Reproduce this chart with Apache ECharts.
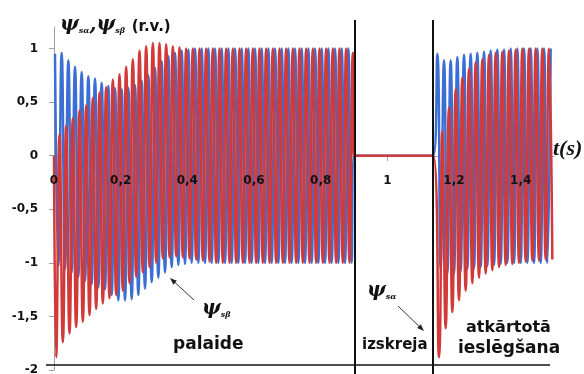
<!DOCTYPE html>
<html>
<head>
<meta charset="utf-8">
<script src="https://cdn.jsdelivr.net/npm/echarts@6/dist/echarts.min.js"></script>
<style>
  html, body { margin: 0; padding: 0; background: #fff; }
  #chart { width: 584px; height: 374px; }
</style>
</head>
<body>
<div id="chart"></div>
<script>
// 50 Hz flux, one extremum every half period (s)
const halfPeriod = 0.01;
// supply switched off / switched on again (s)
const offTime = 0.9;
const onTime = 1.138;

// time of the first extremum in each run
const alphaStart1 = 0.0065;
const betaStart1 = 0.003;
const alphaStart2 = 1.155;
const betaStart2 = 1.15;

// ψsα, start (palaide): troughs and peaks
const alphaTroughs1 = [
  -1.88, -1.74, -1.66, -1.60, -1.55, -1.49, -1.43, -1.38, -1.33, -1.30,
  -1.26, -1.19, -1.13, -1.09, -1.04, -1.00, -0.96, -0.95, -0.94, -0.95,
  -0.96, -0.97, -0.98, -0.99, -1.00, -1.00, -1.00, -1.00, -1.00, -1.00,
  -1.00, -1.00, -1.00, -1.00, -1.00, -1.00, -1.00, -1.00, -1.00, -1.00,
  -1.00, -1.00, -1.00, -1.00, -1.00,
];
const alphaPeaks1 = [
  0.20, 0.28, 0.35, 0.42, 0.47, 0.54, 0.59, 0.64, 0.71, 0.76,
  0.83, 0.90, 0.98, 1.02, 1.05, 1.05, 1.04, 1.02, 1.01, 1.00,
  1.00, 1.00, 1.00, 1.00, 1.00, 1.00, 1.00, 1.00, 1.00, 1.00,
  1.00, 1.00, 1.00, 1.00, 1.00, 1.00, 1.00, 1.00, 1.00, 1.00,
  1.00, 1.00, 1.00, 1.00, 0.96,
];
// ψsβ, start
const betaPeaks1 = [
  0.95, 0.96, 0.89, 0.83, 0.78, 0.74, 0.72, 0.68, 0.65, 0.63,
  0.62, 0.63, 0.66, 0.70, 0.75, 0.82, 0.88, 0.93, 0.96, 0.98,
  0.99, 1.00, 1.00, 1.00, 1.00, 1.00, 1.00, 1.00, 1.00, 1.00,
  1.00, 1.00, 1.00, 1.00, 1.00, 1.00, 1.00, 1.00, 1.00, 1.00,
  1.00, 1.00, 1.00, 1.00, 1.00,
];
const betaTroughs1 = [
  -1.03, -1.06, -1.09, -1.13, -1.17, -1.20, -1.23, -1.25, -1.30, -1.35,
  -1.35, -1.34, -1.30, -1.24, -1.18, -1.14, -1.09, -1.04, -1.02, -1.01,
  -1.00, -1.00, -1.00, -1.00, -1.00, -1.00, -1.00, -1.00, -1.00, -1.00,
  -1.00, -1.00, -1.00, -1.00, -1.00, -1.00, -1.00, -1.00, -1.00, -1.00,
  -1.00, -1.00, -1.00, -1.00, -1.00,
];

// re-switching (atkārtotā ieslēgšana)
const alphaTroughs2 = [
  -1.88, -1.61, -1.46, -1.35, -1.26, -1.19, -1.14, -1.10, -1.07, -1.04,
  -1.02, -1.01, -1.00, -0.99, -0.98, -0.98, -0.97, -0.97,
];
const alphaPeaks2 = [
  0.23, 0.45, 0.62, 0.73, 0.81, 0.87, 0.90, 0.94, 0.96, 0.97,
  0.98, 0.99, 1.00, 1.00, 1.00, 1.00, 1.00,
];
const betaPeaks2 = [
  0.95, 0.89, 0.89, 0.92, 0.94, 0.95, 0.96, 0.97, 0.98, 0.99,
  0.99, 1.00, 1.00, 1.00, 1.00, 1.00, 1.00, 1.00,
];
const betaTroughs2 = [
  -1.05, -1.10, -1.10, -1.08, -1.06, -1.05, -1.04, -1.03, -1.02, -1.01,
  -1.00, -1.00, -1.00, -1.00, -1.00, -1.00, -1.00,
];

const xTicks = [0, 0.2, 0.4, 0.6, 0.8, 1, 1.2, 1.4];
const yTicks = [-2, -1.5, -1, -0.5, 0, 0.5, 1];

const colors = ['#3C6FD4', '#D23A3A'];

// interleave extrema: first[] at even half periods, second[] at odd
function buildRun(start, first, second) {
  const pts = [];
  for (let i = 0; i < first.length; i++) {
    pts.push([start + 2 * i * halfPeriod, first[i]]);
    if (i < second.length) {
      pts.push([start + (2 * i + 1) * halfPeriod, second[i]]);
    }
  }
  return pts;
}

const alphaData = [[0, 0]]
  .concat(buildRun(alphaStart1, alphaTroughs1, alphaPeaks1))
  .concat([[offTime, 0], [onTime, 0]])
  .concat(buildRun(alphaStart2, alphaTroughs2, alphaPeaks2));

const betaData = buildRun(betaStart1, betaPeaks1, betaTroughs1)
  .concat([[offTime, 0], [onTime, 0]])
  .concat(buildRun(betaStart2, betaPeaks2, betaTroughs2));

const comma = (v) => String(v).replace('.', ',');

function arrow(x1, y1, x2, y2) {
  const dx = x2 - x1, dy = y2 - y1;
  const len = Math.sqrt(dx * dx + dy * dy);
  const ux = dx / len, uy = dy / len;
  const bx = x2 - ux * 7, by = y2 - uy * 7;
  return [
    { type: 'line', z: 100, shape: { x1, y1, x2: bx, y2: by }, style: { stroke: '#333', lineWidth: 1 } },
    {
      type: 'polygon', z: 100,
      shape: { points: [[x2, y2], [bx - uy * 2.6, by + ux * 2.6], [bx + uy * 2.6, by - ux * 2.6]] },
      style: { fill: '#222' },
    },
  ];
}

const psi = 'italic bold 20px "DejaVu Serif"';
const sub = 'italic bold 8px "DejaVu Serif"';
const bold = (px) => 'bold ' + px + 'px "DejaVu Sans"';
const tickLabel = { fontWeight: 'bold', fontSize: 12, fontFamily: 'DejaVu Sans', color: '#111' };

const mychart = echarts.init(document.getElementById('chart'), null, { renderer: 'canvas' });

// grid: y from -2 (bottom) to 1.2 (top); x axis drawn through y = 0
const gridTop = 27;
const gridBottom = 4;
const zeroOffset = -Math.round((374 - gridTop - gridBottom) * 2 / 3.2);

const option = {
  animation: false,
  grid: { left: 54, right: 30, top: gridTop, bottom: gridBottom, containLabel: false, outerBoundsMode: 'none' },
  xAxis: [
    {
      // axis line and ticks, under the curves
      type: 'value',
      min: 0,
      max: 1.5,
      position: 'bottom',
      offset: zeroOffset,
      z: 0,
      axisLine: { onZero: false, lineStyle: { color: '#a0a0a0', width: 1 } },
      axisTick: { show: true, length: 5, customValues: xTicks, lineStyle: { color: '#a0a0a0' } },
      axisLabel: { show: false },
      splitLine: { show: false },
    },
    {
      // tick labels, drawn over the curves
      type: 'value',
      min: 0,
      max: 1.5,
      position: 'bottom',
      offset: zeroOffset,
      z: 10,
      axisLine: { show: false, onZero: false },
      axisTick: { show: false },
      axisLabel: Object.assign({ customValues: xTicks, margin: 19, formatter: comma }, tickLabel),
      splitLine: { show: false },
    },
  ],
  yAxis: {
    type: 'value',
    min: -2,
    max: 1.2,
    axisLine: { show: true, lineStyle: { color: '#a0a0a0', width: 1 } },
    axisTick: { show: true, length: 5, customValues: yTicks, lineStyle: { color: '#a0a0a0' } },
    axisLabel: Object.assign({ customValues: yTicks, margin: 16, formatter: comma }, tickLabel),
    splitLine: { show: false },
  },
  series: [
    {
      name: 'ψsβ',
      type: 'line',
      xAxisIndex: 0,
      data: betaData,
      showSymbol: false,
      smooth: 0.5,
      lineStyle: { color: colors[0], width: 2.5 },
      z: 2,
    },
    {
      name: 'ψsα',
      type: 'line',
      xAxisIndex: 0,
      data: alphaData,
      showSymbol: false,
      smooth: 0.5,
      lineStyle: { color: colors[1], width: 2.5 },
      z: 3,
    },
  ],
  graphic: [
    {
      type: 'text', left: 60, top: 15, z: 100,
      style: {
        text: '{p|ψ}{s|sα}{p|,ψ}{s|sβ}  {b|(r.v.)}',
        fill: '#111',
        rich: {
          p: { font: psi, fill: '#111', verticalAlign: 'bottom' },
          s: { font: sub, fill: '#111', verticalAlign: 'bottom' },
          b: { font: bold(15), fill: '#111', verticalAlign: 'bottom' },
        },
      },
    },
    {
      type: 'text', left: 553, top: 138, z: 100,
      style: { text: 't(s)', font: 'italic bold 22px "Liberation Serif"', fill: '#111' },
    },
    {
      type: 'text', left: 202, top: 299, z: 100,
      style: {
        text: '{p|ψ}{s|sβ}',
        rich: {
          p: { font: psi, fill: '#111', verticalAlign: 'bottom' },
          s: { font: sub, fill: '#111', verticalAlign: 'bottom' },
        },
      },
    },
    {
      type: 'text', left: 367, top: 281, z: 100,
      style: {
        text: '{p|ψ}{s|sα}',
        rich: {
          p: { font: psi, fill: '#111', verticalAlign: 'bottom' },
          s: { font: sub, fill: '#111', verticalAlign: 'bottom' },
        },
      },
    },
    ...arrow(194, 300, 170, 278),
    ...arrow(398, 306, 424, 331),
    { type: 'text', left: 173, top: 336, z: 100, style: { text: 'palaide', font: bold(17), fill: '#111' } },
    { type: 'text', left: 362, top: 338, z: 100, style: { text: 'izskreja', font: bold(15), fill: '#111' } },
    { type: 'text', left: 466, top: 320, z: 100, style: { text: 'atkārtotā', font: bold(16), fill: '#111' } },
    { type: 'text', left: 458, top: 340, z: 100, style: { text: 'ieslēgšana', font: bold(17), fill: '#111' } },
    { type: 'line', z: 100, shape: { x1: 355, y1: 20, x2: 355, y2: 374 }, style: { stroke: '#111', lineWidth: 2 } },
    { type: 'line', z: 100, shape: { x1: 433, y1: 20, x2: 433, y2: 374 }, style: { stroke: '#111', lineWidth: 2 } },
    { type: 'line', z: 100, shape: { x1: 46, y1: 365, x2: 550, y2: 365 }, style: { stroke: '#111', lineWidth: 1.5 } },
  ],
};

mychart.setOption(option);
</script>
</body>
</html>
